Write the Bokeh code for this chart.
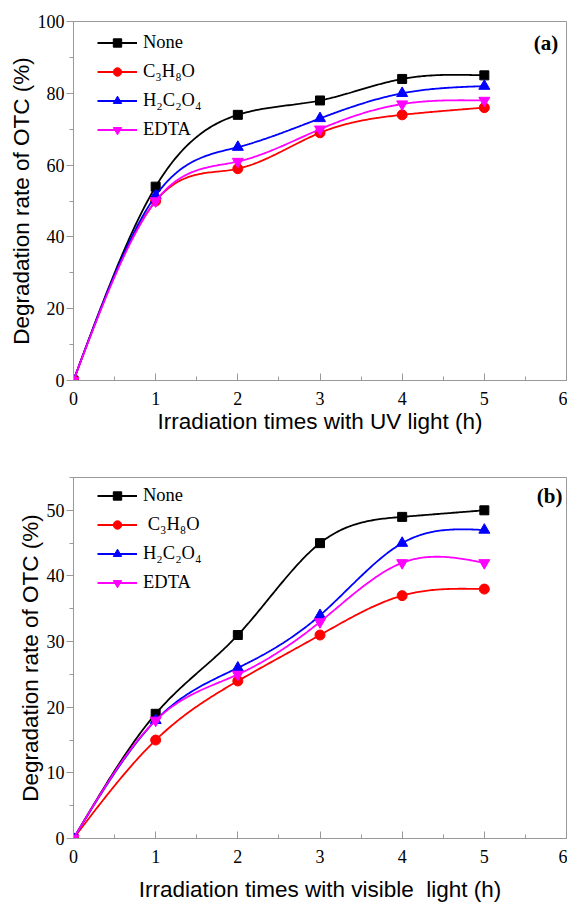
import numpy as np
from bokeh.plotting import figure
from bokeh.layouts import column
from bokeh.models import Legend, LegendItem, Label, Range1d, SingleIntervalTicker
from bokeh.embed import file_html
from bokeh.resources import INLINE

# ---- data ----
hours = [0, 1, 2, 3, 4, 5]

uv_none = [0, 54, 74, 78, 84, 85]
uv_c3h8o = [0, 50, 59, 69, 74, 76]
uv_h2c2o4 = [0, 51.5, 65, 73, 80, 82]
uv_edta = [0, 50, 61, 70, 77, 78]

vis_none = [0, 19, 31, 45, 49, 50]
vis_c3h8o = [0, 15, 24, 31, 37, 38]
vis_h2c2o4 = [0, 18, 26, 34, 45, 47]
vis_edta = [0, 18, 25, 33, 42, 42]

labels_a = ["None", "C\u2083H\u2088O", "H\u2082C\u2082O\u2084", "EDTA"]
labels_b = ["None", " C\u2083H\u2088O", "H\u2082C\u2082O\u2084", "EDTA"]
colors = ["black", "#ff0000", "#0000ff", "#ff00ff"]
markers = ["square", "circle", "triangle", "inverted_triangle"]
sizes = [9, 10, 11, 11]

SERIF = "Liberation Serif"
SANS = "Liberation Sans"
AXIS_GRAY = "#999999"


def spline_curve(xs, ys, n=240):
    x = np.asarray(xs, float)
    y = np.asarray(ys, float)
    m = len(x)
    h = np.diff(x)
    A = np.zeros((m, m))
    b = np.zeros(m)
    A[0, 0] = 1.0
    A[-1, -1] = 1.0
    for i in range(1, m - 1):
        A[i, i - 1] = h[i - 1]
        A[i, i] = 2 * (h[i - 1] + h[i])
        A[i, i + 1] = h[i]
        b[i] = 6 * ((y[i + 1] - y[i]) / h[i] - (y[i] - y[i - 1]) / h[i - 1])
    M = np.linalg.solve(A, b)
    xx = np.linspace(x[0], x[-1], n)
    yy = np.empty_like(xx)
    for k, t in enumerate(xx):
        i = min(np.searchsorted(x, t, side="right") - 1, m - 2)
        i = max(i, 0)
        hi = h[i]
        a = (x[i + 1] - t) / hi
        c = (t - x[i]) / hi
        yy[k] = (a * y[i] + c * y[i + 1]
                 + ((a ** 3 - a) * M[i] + (c ** 3 - c) * M[i + 1]) * hi * hi / 6.0)
    return xx, yy


def make_panel(series, labels, ymax, yint, xlabel, tag, tag_x, tag_y, frame_h,
               min_top, min_bottom, legend_loc, title_standoff):
    p = figure(frame_width=493, frame_height=frame_h,
               x_range=Range1d(0, 6), y_range=Range1d(0, ymax),
               output_backend="svg", toolbar_location=None,
               min_border_left=73, min_border_right=1,
               min_border_top=min_top, min_border_bottom=min_bottom,
               background_fill_color="white", border_fill_color="white")
    p.outline_line_color = AXIS_GRAY
    p.outline_line_width = 1
    p.xgrid.visible = False
    p.ygrid.visible = False

    p.xaxis.ticker = SingleIntervalTicker(interval=1, num_minor_ticks=2)
    p.yaxis.ticker = SingleIntervalTicker(interval=yint, num_minor_ticks=2)

    for ax in (p.xaxis, p.yaxis):
        ax.axis_line_color = AXIS_GRAY
        ax.major_tick_line_color = AXIS_GRAY
        ax.minor_tick_line_color = AXIS_GRAY
        ax.major_label_text_font = SERIF
        ax.major_label_text_font_size = "18px"
        ax.major_label_text_color = "black"
        ax.axis_label_text_font = SANS
        ax.axis_label_text_font_size = "22.5px"
        ax.axis_label_text_font_style = "normal"
        ax.axis_label_text_color = "black"

    p.xaxis.major_tick_in = 7
    p.xaxis.major_tick_out = 0
    p.xaxis.minor_tick_in = 4
    p.xaxis.minor_tick_out = 0
    p.xaxis.major_label_standoff = 11
    p.xaxis.axis_label = xlabel
    p.xaxis.axis_label_standoff = title_standoff

    p.yaxis.major_tick_in = 0
    p.yaxis.major_tick_out = 7
    p.yaxis.minor_tick_in = 0
    p.yaxis.minor_tick_out = 4
    p.yaxis.major_label_standoff = 2
    p.yaxis.axis_label = "Degradation rate of OTC (%)"
    p.yaxis.axis_label_standoff = 1

    items = []
    for ys, lab, col, mk, sz in zip(series, labels, colors, markers, sizes):
        cx, cy = spline_curve(hours, ys)
        lr = p.line(cx, cy, line_color=col, line_width=1.8)
        sr = p.scatter(hours, ys, marker=mk, size=sz, fill_color=col,
                       line_color=col)
        items.append(LegendItem(label=lab, renderers=[lr, sr]))

    leg = Legend(items=items, location=legend_loc, margin=0, padding=0,
                 spacing=8, label_height=21, glyph_height=21, glyph_width=40,
                 label_standoff=6, label_text_font=SERIF,
                 label_text_font_size="18.5px", label_text_color="black",
                 background_fill_alpha=0, border_line_alpha=0)
    p.add_layout(leg)

    p.add_layout(Label(x=tag_x, y=tag_y, text=tag, text_font=SERIF,
                       text_font_size="21px", text_font_style="bold",
                       text_align="right", text_baseline="middle",
                       text_color="black"))
    return p


p1 = make_panel([uv_none, uv_c3h8o, uv_h2c2o4, uv_edta], labels_a,
                100, 20, "Irradiation times with UV light (h)", "(a)", 5.90, 94,
                359, 21, 75, (24, 240), 1)
p2 = make_panel([vis_none, vis_c3h8o, vis_h2c2o4, vis_edta], labels_b,
                55, 10, "Irradiation times with visible\u00a0 light (h)", "(b)",
                5.95, 52.2, 361, 22, 62, (24, 245), 11)

layout = column(p1, p2, spacing=0)
open("out.html", "w").write(file_html(layout, INLINE))
